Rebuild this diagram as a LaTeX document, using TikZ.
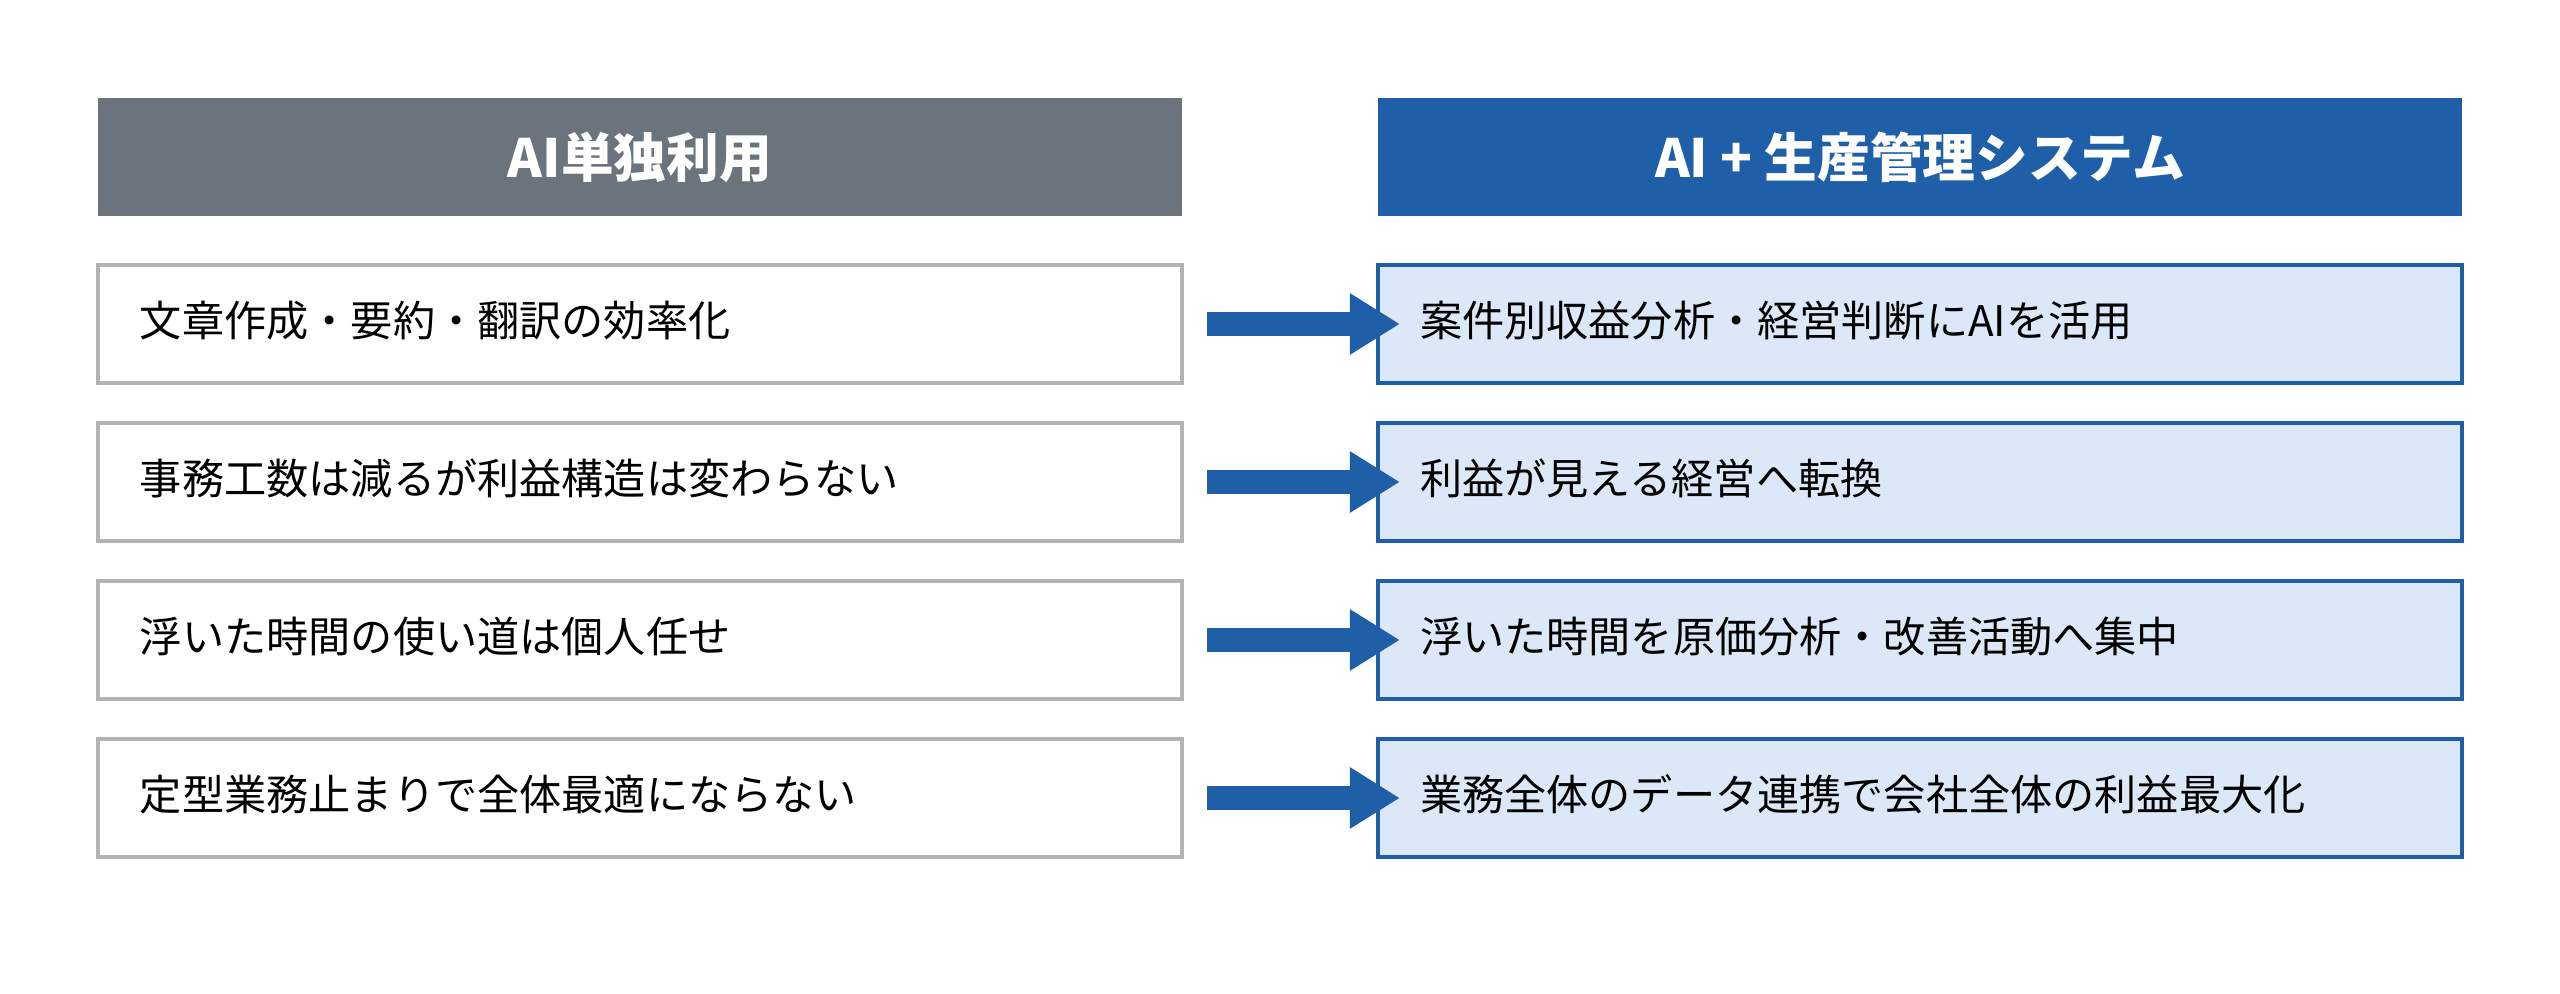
\documentclass[tikz,border=0pt]{standalone}
\usepackage{fontspec}
\setmainfont{Noto Sans CJK JP}
\usetikzlibrary{arrows.meta}
\definecolor{hdgray}{HTML}{6B737C}
\definecolor{hdblue}{HTML}{1F5FA8}
\definecolor{cellblue}{HTML}{DCE8F7}
\definecolor{cellgray}{HTML}{B3B3B3}
\tikzset{
  head/.style={minimum width=10.84cm, minimum height=1.18cm, inner sep=0pt,
    text=white, font=\fontsize{15}{18}\selectfont\bfseries},
  cell/.style={draw, line width=1.2pt, minimum width=10.84cm, minimum height=1.18cm,
    text width=10.0cm, align=left, inner sep=0pt, font=\fontsize{12}{15}\selectfont},
  oldcell/.style={cell, draw=cellgray, fill=white},
  newcell/.style={cell, draw=hdblue, fill=cellblue},
  go/.style={hdblue, line width=0.24cm, -{Triangle[length=0.5cm,width=0.58cm]},
    shorten <=0.23cm, shorten >=-0.24cm}
}
\begin{document}
\begin{tikzpicture}
    \useasboundingbox (0,0) rectangle (25.6,-9.94);
    % Headers
    \node[head, fill=hdgray] (hl) at (6.40,-1.57) {AI単独利用};
    \node[head, fill=hdblue] (hr) at (19.20,-1.57) {AI + 生産管理システム};
    % Rows
    \foreach \i/\l/\r in {1/文章作成・要約・翻訳の効率化/案件別収益分析・経営判断にAIを活用,
        2/事務工数は減るが利益構造は変わらない/利益が見える経営へ転換,
        3/浮いた時間の使い道は個人任せ/浮いた時間を原価分析・改善活動へ集中,
        4/定型業務止まりで全体最適にならない/業務全体のデータ連携で会社全体の利益最大化}{
      \node[oldcell] (l\i) at (6.40,{-3.24-1.58*(\i-1)}) {\raisebox{0.1cm}{\l}};
      \node[newcell] (r\i) at (19.20,{-3.24-1.58*(\i-1)}) {\raisebox{0.1cm}{\r}};
      \draw[go] (l\i.east) -- (r\i.west);
    }
\end{tikzpicture}
\end{document}
